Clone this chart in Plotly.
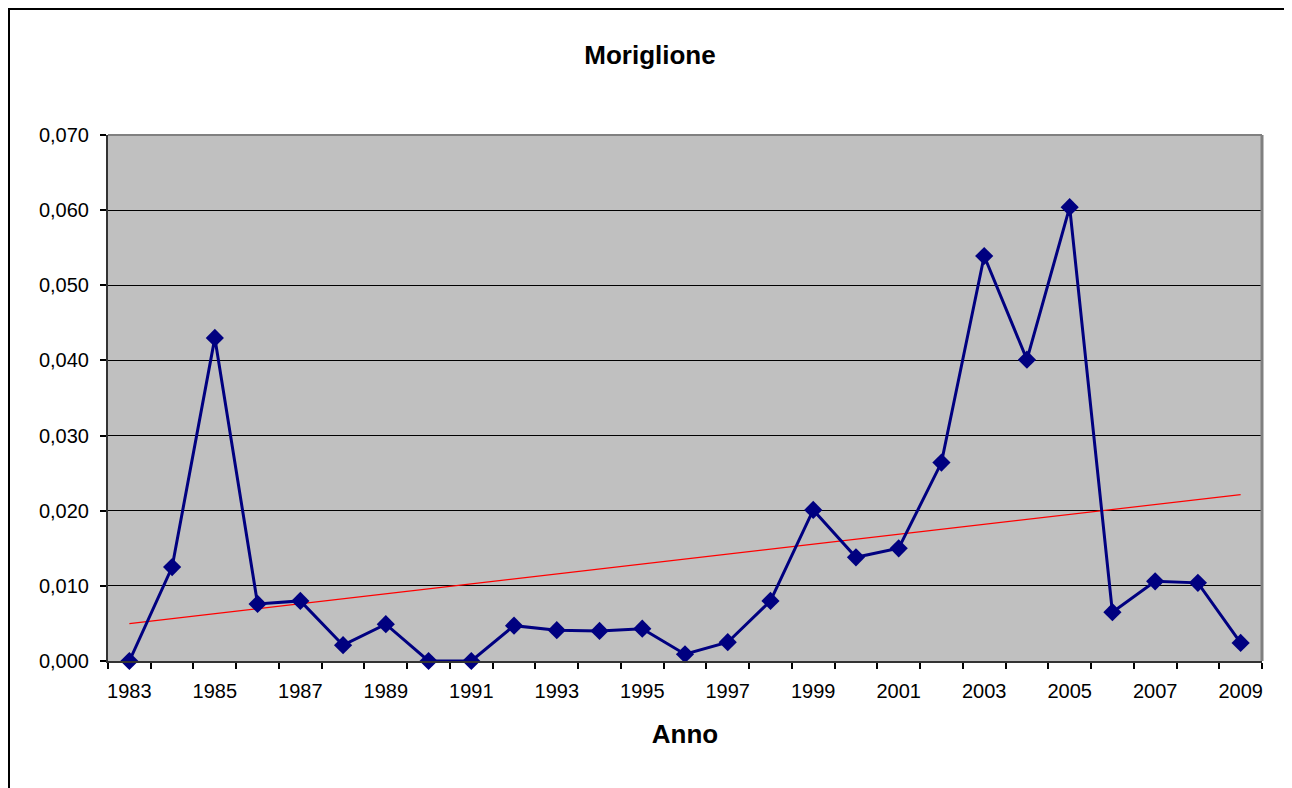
import numpy as np
import plotly.graph_objects as go

years = list(range(1983, 2010))
values = [0.0, 0.0125, 0.0430, 0.0076, 0.0080, 0.0021, 0.0049, 0.0, 0.0,
          0.0047, 0.0041, 0.0040, 0.0043, 0.0009, 0.0025, 0.0080, 0.0201,
          0.0138, 0.0150, 0.0264, 0.0539, 0.0401, 0.0604, 0.0065, 0.0106,
          0.0104, 0.0024]
tick_years = list(range(1983, 2010, 2))

title_text = "Moriglione"
x_title = "Anno"

# linear trend line (least squares)
coef = np.polyfit(years, values, 1)
trend_x = [years[0], years[-1]]
trend_y = [float(np.polyval(coef, v)) for v in trend_x]

OFF = 8  # page body margin
W, H = 1292 - OFF, 788 - OFF
L, R, T, B = 108 - OFF, 1262 - OFF, 135 - OFF, 661 - OFF
pw, ph = R - L, B - T


def px(x):
    # page pixel -> paper fraction
    return (x - OFF - L) / pw


def py(y):
    return (B - (y - OFF)) / ph


fig = go.Figure()
fig.add_trace(go.Scatter(
    x=trend_x, y=trend_y, mode="lines",
    line=dict(color="#FF0000", width=1.2), showlegend=False, hoverinfo="skip"))
fig.add_trace(go.Scatter(
    x=years, y=values, mode="lines+markers",
    line=dict(color="#000080", width=3),
    marker=dict(symbol="diamond", size=14, color="#000080"),
    showlegend=False, cliponaxis=False))

font = "Liberation Sans, Arial, sans-serif"

fig.update_layout(
    width=W, height=H,
    margin=dict(l=L, r=W - R, t=T, b=H - B),
    paper_bgcolor="white",
    plot_bgcolor="#C0C0C0",
    separators=",.",
    font=dict(family=font, color="black", size=20),
    title=dict(text="<b>" + title_text + "</b>", x=0.5, xanchor="center",
               xref="container", yref="container", y=1 - (55 - OFF) / H,
               yanchor="middle",
               font=dict(size=26, family=font, color="black")),
    xaxis=dict(
        range=[1982.5, 2009.5], tickmode="array", tickvals=tick_years,
        ticktext=[str(t) for t in tick_years],
        ticks="outside", ticklen=7, tickcolor="rgba(0,0,0,0)",
        ticklabelstandoff=4,
        minor=dict(tickmode="linear", tick0=1982.5, dtick=1, ticks="outside",
                   ticklen=6, tickcolor="black", tickwidth=1.5, showgrid=False),
        showgrid=False, zeroline=False,
        showline=True, linecolor="#333333", linewidth=2,
        tickfont=dict(size=20, family=font),
        title=dict(text="<b>" + x_title + "</b>", standoff=24,
                   font=dict(size=26, family=font)),
    ),
    yaxis=dict(
        range=[0, 0.07], dtick=0.01, tick0=0, tickformat=".3f",
        ticks="outside", ticklen=6, tickcolor="black", tickwidth=1.5,
        ticklabelstandoff=7,
        showgrid=True, gridcolor="black", gridwidth=1,
        zeroline=False,
        showline=True, linecolor="#333333", linewidth=2,
        tickfont=dict(size=20, family=font),
    ),
    shapes=[
        # plot area top / right border
        dict(type="line", xref="paper", yref="paper", x0=0, x1=1, y0=1, y1=1,
             line=dict(color="#808080", width=2), layer="above"),
        dict(type="line", xref="paper", yref="paper", x0=1, x1=1, y0=0, y1=1,
             line=dict(color="#808080", width=3), layer="above"),
        # outer chart border
        dict(type="rect", xref="paper", yref="paper",
             x0=px(OFF + 1), x1=px(1287), y0=py(800), y1=py(OFF + 1),
             line=dict(color="black", width=2), fillcolor="rgba(0,0,0,0)",
             layer="above"),
    ],
)

fig.write_html("out.html")
